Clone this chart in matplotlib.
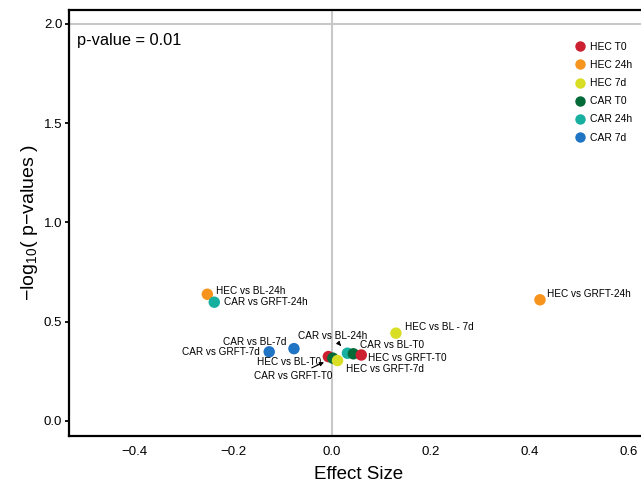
import matplotlib
matplotlib.use('Agg')
from matplotlib import pyplot as plt
from matplotlib.lines import Line2D

plt.rcParams['font.family'] = ['Liberation Sans', 'DejaVu Sans']
plt.rcParams['mathtext.fontset'] = 'custom'
plt.rcParams['mathtext.rm'] = 'Liberation Sans'
plt.rcParams['mathtext.it'] = 'Liberation Sans:italic'

# groups and colours
groups = ['HEC T0', 'HEC 24h', 'HEC 7d', 'CAR T0', 'CAR 24h', 'CAR 7d']
group_colors = ['#CC1F2F', '#F7941D', '#D8DE24', '#046A38', '#17AFA0', '#1F74C4']

# comparisons (draw order matters where points overlap)
labels = ['HEC vs BL-24h', 'CAR vs GRFT-24h', 'CAR vs BL-7d', 'CAR vs GRFT-7d',
          'HEC vs BL-T0', 'CAR vs GRFT-T0', 'HEC vs GRFT-7d', 'CAR vs BL-24h',
          'CAR vs BL-T0', 'HEC vs GRFT-T0', 'HEC vs BL - 7d', 'HEC vs GRFT-24h']
point_group = ['HEC 24h', 'CAR 24h', 'CAR 7d', 'CAR 7d',
               'HEC T0', 'CAR T0', 'HEC 7d', 'CAR 24h',
               'CAR T0', 'HEC T0', 'HEC 7d', 'HEC 24h']
effect_size = [-0.252, -0.238, -0.077, -0.127,
               -0.0075, 0.0015, 0.011, 0.031,
               0.043, 0.059, 0.129, 0.42]
neg_log_p = [0.638, 0.598, 0.364, 0.348,
             0.324, 0.316, 0.304, 0.341,
             0.338, 0.332, 0.442, 0.61]

# label placement: offset in pixels, horizontal alignment, arrow
label_offsets = [(9, 3), (10, 0), (-8, 7), (-9, 0),
                 (-7, -5), (0, -18), (8, -8), (-15, 17),
                 (7, 9), (7, -3), (9, 6), (7, 6)]
label_ha = ['left', 'left', 'right', 'right',
            'right', 'right', 'left', 'center',
            'left', 'left', 'left', 'left']
label_arrow = [False, False, False, False,
               False, True, False, True,
               False, False, False, False]

p_threshold = 2.0  # -log10(0.01)

fig = plt.figure(figsize=(6.41, 4.88), dpi=100)
ax = fig.add_axes([0.108, 0.1066, 0.902, 0.8729])

ax.axhline(p_threshold, color='#C8C8C8', lw=1.5, zorder=0)
ax.axvline(0, color='#C8C8C8', lw=1.5, zorder=0)

color_of = dict(zip(groups, group_colors))
for i, (x, y) in enumerate(zip(effect_size, neg_log_p)):
    ax.scatter(x, y, s=68, color=color_of[point_group[i]], edgecolors='none', zorder=3 + i * 0.01)
    dx, dy = label_offsets[i]
    arrow = dict(arrowstyle='-|>', color='black', lw=0.8, mutation_scale=6,
                 shrinkA=1, shrinkB=7) if label_arrow[i] else None
    ax.annotate(labels[i], (x, y), xytext=(dx, dy), textcoords='offset pixels',
                ha=label_ha[i], va='center', fontsize=7.2, arrowprops=arrow, zorder=5)

ax.text(0.013, 0.945, 'p-value = 0.01', transform=ax.transAxes, ha='left', va='top', fontsize=11.8)

ax.set_xlim(-0.531, 0.637)
ax.set_ylim(-0.076, 2.07)
ax.set_xticks([-0.4, -0.2, 0.0, 0.2, 0.4, 0.6])
ax.set_yticks([0.0, 0.5, 1.0, 1.5, 2.0])
ax.tick_params(axis='both', labelsize=9.5, colors='black')
ax.tick_params(axis='x', length=0, pad=7)
ax.tick_params(axis='y', length=3, width=1.3, pad=2)

for side in ['left', 'bottom', 'top']:
    ax.spines[side].set_linewidth(1.6)
ax.spines['right'].set_visible(False)

ax.set_xlabel('Effect Size', fontsize=13.5, labelpad=6)
ax.set_ylabel(r'$-$log$_{10}$( p$-$values )', fontsize=14, labelpad=3)

handles = [Line2D([], [], marker='o', ls='none', markersize=7.5, markeredgewidth=0,
                  color=c, label=g) for g, c in zip(groups, group_colors)]
leg = ax.legend(handles=handles, loc='upper left', bbox_to_anchor=(576 / 641, 1 - 42 / 488),
                bbox_transform=fig.transFigure, frameon=False, fontsize=7.5,
                handlelength=0.8, handletextpad=0.5, labelspacing=0.78, borderpad=0,
                borderaxespad=0)

fig.savefig('out.png', dpi=100)
